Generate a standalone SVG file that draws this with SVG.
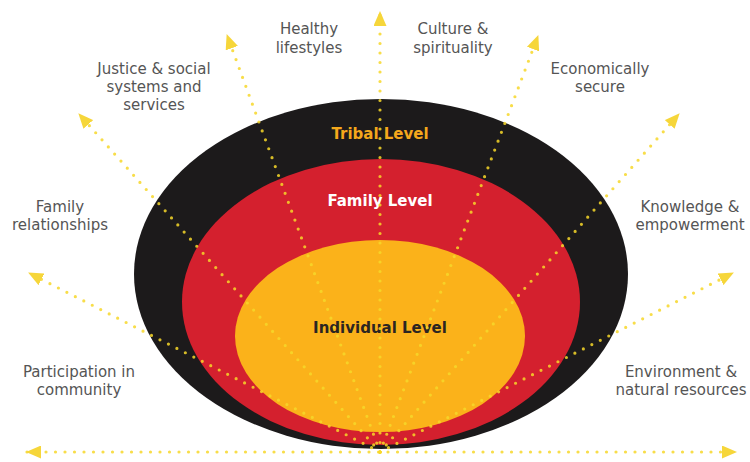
<svg xmlns="http://www.w3.org/2000/svg" width="750" height="462" viewBox="0 0 750 462">
<style>
.lbl{font-family:"DejaVu Sans","Liberation Sans",sans-serif;font-size:15px;fill:#555555;text-anchor:middle}
.lvl{font-family:"DejaVu Sans","Liberation Sans",sans-serif;font-size:15px;font-weight:700;text-anchor:middle}
.dot{fill:none;stroke:#f7d82a;stroke-width:3.2;stroke-linecap:round;stroke-dasharray:0 9.5;opacity:0.85}
</style>
<defs>
<marker id="ah" viewBox="0 0 15 13" refX="14" refY="6.5" markerWidth="15" markerHeight="13" markerUnits="userSpaceOnUse" orient="auto-start-reverse">
<path d="M0,0 L15,6.5 L0,13 z" fill="#f5cf18"/>
</marker>
</defs>
<rect width="750" height="462" fill="#ffffff"/>
<g id="tribal"><ellipse cx="381" cy="274" rx="247" ry="175" fill="#1c1a1b"/>
<text class="lvl" x="380" y="139" fill="#f5a81c">Tribal Level</text></g>
<g id="family"><ellipse cx="381" cy="302" rx="199" ry="143" fill="#d4202e"/>
<text class="lvl" x="380" y="206" fill="#ffffff">Family Level</text></g>
<g id="individual"><ellipse cx="380" cy="336" rx="145" ry="96" fill="#fbb21a"/>
<text class="lvl" x="380" y="333" fill="#2b2522">Individual Level</text></g>
<g id="connectors">
<path class="dot" d="M380,452 L380,12" marker-end="url(#ah)"/>
<path class="dot" d="M380,452 L227,35" marker-end="url(#ah)"/>
<path class="dot" d="M380,452 L538,36" marker-end="url(#ah)"/>
<path class="dot" d="M380,452 L79,114" marker-end="url(#ah)"/>
<path class="dot" d="M380,452 L679,114" marker-end="url(#ah)"/>
<path class="dot" d="M380,452 L29,273" marker-end="url(#ah)"/>
<path class="dot" d="M380,452 L733,273" marker-end="url(#ah)"/>
<path class="dot" d="M27,452 L736,452" marker-start="url(#ah)" marker-end="url(#ah)"/>
</g>
<g id="label-healthy"><text class="lbl" x="309" y="34">Healthy</text><text class="lbl" x="309" y="53">lifestyles</text></g>
<g id="label-culture"><text class="lbl" x="453" y="34">Culture &amp;</text><text class="lbl" x="453" y="53">spirituality</text></g>
<g id="label-justice"><text class="lbl" x="154" y="74">Justice &amp; social</text><text class="lbl" x="154" y="92">systems and</text><text class="lbl" x="154" y="110">services</text></g>
<g id="label-economic"><text class="lbl" x="600" y="74">Economically</text><text class="lbl" x="600" y="92">secure</text></g>
<g id="label-familyrel"><text class="lbl" x="60" y="212">Family</text><text class="lbl" x="60" y="230">relationships</text></g>
<g id="label-knowledge"><text class="lbl" x="690" y="212">Knowledge &amp;</text><text class="lbl" x="690" y="230">empowerment</text></g>
<g id="label-participation"><text class="lbl" x="79" y="377">Participation in</text><text class="lbl" x="79" y="395">community</text></g>
<g id="label-environment"><text class="lbl" x="681" y="377">Environment &amp;</text><text class="lbl" x="681" y="395">natural resources</text></g>
</svg>
